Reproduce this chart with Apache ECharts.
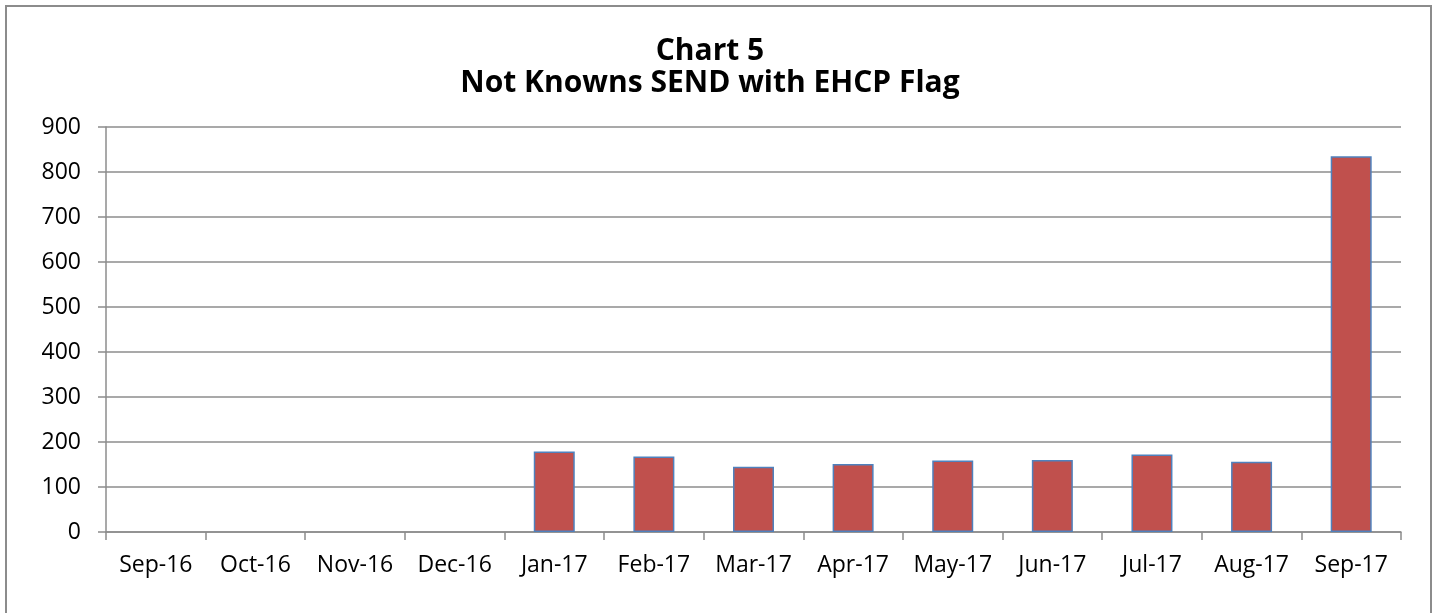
<!DOCTYPE html>
<html>
<head>
<meta charset="utf-8">
<script src="https://cdn.jsdelivr.net/npm/echarts@6/dist/echarts.min.js"></script>
<style>
html,body{margin:0;padding:0;background:#fff;}
#chart{width:1440px;height:613px;}
</style>
</head>
<body>
<div id="chart"></div>
<script>
const categories = ['Sep-16','Oct-16','Nov-16','Dec-16','Jan-17','Feb-17','Mar-17','Apr-17','May-17','Jun-17','Jul-17','Aug-17','Sep-17'];
const values = [null, null, null, null, 179, 168, 145, 151, 159, 160, 172, 156, 835];
const yTicks = [0, 100, 200, 300, 400, 500, 600, 700, 800, 900];
const titleLines = ['Chart 5', 'Not Knowns SEND with EHCP Flag'];

const chart = echarts.init(document.getElementById('chart'), null, {renderer: 'canvas'});
const FONT = '"Open Sans", "Liberation Sans", sans-serif';
const GRAY = '#8c8c8c';

chart.setOption({
  animation: false,
  backgroundColor: '#ffffff',
  title: {
    text: titleLines.join('\n'),
    left: 705,
    textAlign: 'center',
    top: 30,
    textStyle: {
      fontFamily: FONT,
      fontSize: 30,
      fontWeight: 'bold',
      lineHeight: 32,
      color: '#000'
    }
  },
  graphic: [{
    type: 'rect',
    silent: true,
    shape: {x: 6, y: 6, width: 1425, height: 640},
    style: {fill: 'none', stroke: GRAY, lineWidth: 2}
  }],
  grid: {left: 106, right: 39, top: 127, bottom: 81, containLabel: false, outerBoundsMode: 'none'},
  xAxis: {
    type: 'category',
    data: categories,
    boundaryGap: true,
    axisLine: {show: true, lineStyle: {color: GRAY, width: 1.5}},
    axisTick: {show: true, length: 8, alignWithLabel: false, lineStyle: {color: GRAY, width: 1.5}},
    axisLabel: {fontFamily: FONT, fontSize: 23, color: '#000', margin: 22, interval: 0}
  },
  yAxis: {
    type: 'value',
    min: yTicks[0],
    max: yTicks[yTicks.length - 1],
    interval: yTicks[1] - yTicks[0],
    axisLine: {show: true, lineStyle: {color: GRAY, width: 1.5}},
    axisTick: {show: true, length: 8, lineStyle: {color: GRAY, width: 1.5}},
    axisLabel: {fontFamily: FONT, fontSize: 23, color: '#000', margin: 25},
    splitLine: {show: true, lineStyle: {color: GRAY, width: 1.5}}
  },
  series: [{
    type: 'bar',
    data: values,
    barWidth: 41,
    itemStyle: {color: '#c0504d', borderColor: '#4f81bd', borderWidth: 1.5}
  }]
});
</script>
</body>
</html>
